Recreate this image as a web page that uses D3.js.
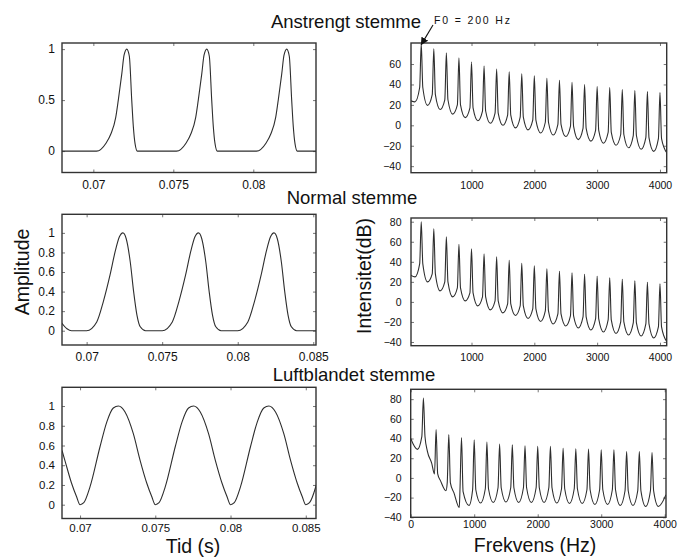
<!DOCTYPE html>
<html>
<head>
<meta charset="utf-8">
<script src="https://cdn.jsdelivr.net/npm/d3@7"></script>
<style>
  body { margin: 0; background: #fff; }
  text { font-family: "Liberation Sans", Arial, sans-serif; fill: #111; }
</style>
</head>
<body>
<svg id="fig" width="680" height="557"></svg>
<script>
// ---- values ----

// glottal pulse, "Anstrengt stemme" (time in s, amplitude)
var strainedT = [0.0680, 0.0702, 0.0708, 0.0711, 0.0714, 0.07156, 0.07178, 0.07192, 0.07209, 0.07225, 0.0724, 0.0725, 0.07261, 0.07275,
  0.0752, 0.0758, 0.0761, 0.0764, 0.07656, 0.07678, 0.07692, 0.07709, 0.07725, 0.0774, 0.0775, 0.07761, 0.07775,
  0.0802, 0.0808, 0.0811, 0.0814, 0.08156, 0.08178, 0.08192, 0.08209, 0.08225, 0.0824, 0.0825, 0.08261, 0.08275, 0.0841];
var strainedA = [0, 0, 0.08, 0.17, 0.33, 0.5, 0.76, 0.94, 1, 0.93, 0.5, 0.24, 0.07, 0,
  0, 0.08, 0.17, 0.33, 0.5, 0.76, 0.94, 1, 0.93, 0.5, 0.24, 0.07, 0,
  0, 0.08, 0.17, 0.33, 0.5, 0.76, 0.94, 1, 0.93, 0.5, 0.24, 0.07, 0, 0];

// "Normal stemme"
var normalT = [0.0682, 0.0687, 0.0690, 0.0700, 0.07067, 0.07111, 0.07155, 0.07189, 0.07217, 0.0724, 0.07262, 0.07289, 0.07311, 0.07333, 0.07355, 0.0739,
  0.0750, 0.07567, 0.07611, 0.07655, 0.07689, 0.07717, 0.0774, 0.07762, 0.07789, 0.07811, 0.07833, 0.07855, 0.0789,
  0.0800, 0.08067, 0.08111, 0.08155, 0.08189, 0.08217, 0.0824, 0.08262, 0.08289, 0.08311, 0.08333, 0.08355, 0.0839, 0.0852];
var normalA = [0.11, 0.02, 0, 0, 0.09, 0.30, 0.57, 0.81, 0.96, 1, 0.94, 0.70, 0.40, 0.16, 0.04, 0,
  0, 0.09, 0.30, 0.57, 0.81, 0.96, 1, 0.94, 0.70, 0.40, 0.16, 0.04, 0,
  0, 0.09, 0.30, 0.57, 0.81, 0.96, 1, 0.94, 0.70, 0.40, 0.16, 0.04, 0, 0];

// "Luftblandet stemme"
var breathyT = [0.0688, 0.06899, 0.06943, 0.06977,
  0.0700, 0.07025, 0.07066, 0.07133, 0.07178, 0.07221, 0.07255, 0.07299, 0.07354, 0.07399, 0.07443, 0.07477,
  0.0750, 0.07525, 0.07566, 0.07633, 0.07678, 0.07721, 0.07755, 0.07799, 0.07854, 0.07899, 0.07943, 0.07977,
  0.0800, 0.08025, 0.08066, 0.08133, 0.08178, 0.08221, 0.08255, 0.08299, 0.08354, 0.08399, 0.08443, 0.08477,
  0.0850, 0.08525, 0.0857];
var breathyA = [0.55, 0.45, 0.22, 0.08,
  0, 0.02, 0.18, 0.59, 0.84, 0.98, 1, 0.94, 0.72, 0.45, 0.22, 0.08,
  0, 0.02, 0.18, 0.59, 0.84, 0.98, 1, 0.94, 0.72, 0.45, 0.22, 0.08,
  0, 0.02, 0.18, 0.59, 0.84, 0.98, 1, 0.94, 0.72, 0.45, 0.22, 0.08,
  0, 0.02, 0.2];

// spectra: harmonics of F0 = 200 Hz, peak level, level at the foot of each spike, and the curve between spikes
var harmonicsHz = [200, 400, 600, 800, 1000, 1200, 1400, 1600, 1800, 2000, 2200, 2400, 2600, 2800, 3000, 3200, 3400, 3600, 3800, 4000];

var strainedPeakDb = [80, 75, 71, 66, 62, 58, 55, 52.5, 50.5, 48.5, 46, 44, 42, 40, 38, 37, 35, 34, 33, 32];
var strainedFootDb = [37, 30, 25, 20, 17, 14, 12, 10, 8, 5, 3, 1, -1, -3, -5, -7, -9, -10, -12, -13];
var strainedValleyHz = [0, 100, 300, 500, 700, 900, 1100, 1300, 1500, 1700, 1900, 2100, 2300, 2500, 2700, 2900, 3100, 3300, 3500, 3700, 3900, 4110];
var strainedValleyDb = [25, 23, 19.5, 15.5, 11, 7.5, 4.5, 2, 0, -2.5, -4.5, -7.5, -9.5, -11, -14, -15.5, -17.5, -19.5, -22, -23.5, -25.5, -27];

var normalPeakDb = [80, 73, 65, 57.5, 53, 48, 45, 41.5, 38.5, 36, 33, 30.5, 29, 27.5, 25.5, 24, 22.5, 21, 19.5, 18];
var normalFootDb = [38, 28, 20, 14, 9, 5, 1, -2, -4, -7, -9, -12, -14, -15, -17, -18, -20, -21, -22, -25];
var normalValleyHz = [0, 100, 300, 500, 700, 900, 1100, 1300, 1500, 1700, 1900, 2100, 2300, 2500, 2700, 2900, 3100, 3300, 3500, 3700, 3900, 4110];
var normalValleyDb = [28, 25, 20, 11, 5, 1, -4, -8, -11, -13.5, -16.5, -19.5, -22, -24, -26, -28, -30, -31.5, -33, -34, -36, -40];

var breathyPeakDb = [81, 49, 44, 41, 38.7, 36.3, 34.3, 33.6, 32.6, 32, 32, 30.2, 29.5, 29.2, 28.5, 28.5, 26.8, 26.8, 25.8];
var breathyFootDb = [42, 4, -5, -14, -12, -11, -10, -10, -10, -10, -10, -11, -11, -12, -12, -12, -13, -13, -13];
var breathyValleyHz = [0, 105, 263, 330, 470, 555, 680, 765, 918, 1100, 1300, 1500, 1700, 1900, 2100, 2300, 2500, 2700, 2900, 3100, 3300, 3500, 3700, 3900, 4020];
var breathyValleyDb = [40, 29, 27, 15, -3, -13, -15, -30, -28, -25.5, -25, -24.5, -25, -25, -25, -25.5, -26, -26, -27, -27, -28, -28, -29, -29, -17];

// tick values
var timeTicksTop = [0.07, 0.075, 0.08];
var timeTicks = [0.07, 0.075, 0.08, 0.085];
var ampTicksTop = [0, 0.5, 1];
var ampTicks = [0, 0.2, 0.4, 0.6, 0.8, 1];
var freqTicks = [1000, 2000, 3000, 4000];
var freqTicksBottom = [0, 1000, 2000, 3000, 4000];
var dbTicksTop = [-40, -20, 0, 20, 40, 60];
var dbTicks = [-40, -20, 0, 20, 40, 60, 80];

var titles = ["Anstrengt stemme", "Normal stemme", "Luftblandet stemme"];

// ---- drawing ----
var svg = d3.select("#fig");
var ink = "#2e2e2e";
var skirtHz = 25;

function spectrumPoints(peaks, foot, valleyHz, valleyDb) {
  var pts = valleyHz.map(function(f, i) { return [f, valleyDb[i]]; });
  peaks.forEach(function(p, i) {
    var f = harmonicsHz[i];
    pts.push([f - skirtHz, foot[i]], [f, p], [f + skirtHz, foot[i]]);
  });
  return pts.sort(function(a, b) { return a[0] - b[0]; });
}

var dB = d3.format("d");
var panels = [
  { box: [62, 43, 316, 172.5], xDom: [0.06804, 0.08392], yDom: [-0.21, 1.06],
    pts: d3.zip(strainedT, strainedA), xt: timeTicksTop, yt: ampTicksTop, fmt: String, fs: 12, padX: 8, padY: 7 },
  { box: [411, 43, 666.7, 172.7], xDom: [37, 4107], yDom: [-46.4, 80.6],
    pts: spectrumPoints(strainedPeakDb, strainedFootDb, strainedValleyHz, strainedValleyDb),
    xt: freqTicks, yt: dbTicksTop, fmt: dB, fs: 10.5, padX: 9, padY: 10 },
  { box: [62, 214.3, 316, 345], xDom: [0.06837, 0.08518], yDom: [-0.146, 1.19],
    pts: d3.zip(normalT, normalA), xt: timeTicks, yt: ampTicks, fmt: String, fs: 12, padX: 7, padY: 7 },
  { box: [411, 218, 666.7, 345.7], xDom: [37, 4107], yDom: [-43.7, 83.7],
    pts: spectrumPoints(normalPeakDb, normalFootDb, normalValleyHz, normalValleyDb),
    xt: freqTicks, yt: dbTicks, fmt: dB, fs: 10.5, padX: 8, padY: 9.5 },
  { box: [62, 387.3, 316, 518.5], xDom: [0.0688, 0.08568], yDom: [-0.14, 1.19],
    pts: d3.zip(breathyT, breathyA), xt: timeTicks, yt: ampTicks, fmt: String, fs: 11.5, padX: 5, padY: 7 },
  { box: [410.7, 389.3, 666, 517.3], xDom: [0, 4020], yDom: [-40, 90],
    pts: spectrumPoints(breathyPeakDb, breathyFootDb, breathyValleyHz, breathyValleyDb),
    xt: freqTicksBottom, yt: dbTicks, fmt: dB, fs: 10.5, padX: 3, padY: 9 }
];

panels.forEach(function(p, i) {
  var x0 = p.box[0], y0 = p.box[1], x1 = p.box[2], y1 = p.box[3];
  var x = d3.scaleLinear().domain(p.xDom).range([x0, x1]);
  var y = d3.scaleLinear().domain(p.yDom).range([y1, y0]);
  p.x = x; p.y = y;

  var clipId = "clip" + i;
  svg.append("clipPath").attr("id", clipId)
    .append("rect").attr("x", x0).attr("y", y0).attr("width", x1 - x0).attr("height", y1 - y0);

  var g = svg.append("g");

  // ticks on all four sides, pointing inward like MATLAB
  var axes = [
    { a: d3.axisBottom(x).tickValues(p.xt).tickFormat(p.fmt).tickPadding(p.padX), t: "translate(0," + y1 + ")" },
    { a: d3.axisTop(x).tickValues(p.xt).tickFormat(""), t: "translate(0," + y0 + ")" },
    { a: d3.axisLeft(y).tickValues(p.yt).tickFormat(p.fmt).tickPadding(p.padY), t: "translate(" + x0 + ",0)" },
    { a: d3.axisRight(y).tickValues(p.yt).tickFormat(""), t: "translate(" + x1 + ",0)" }
  ];
  axes.forEach(function(d) {
    var ax = g.append("g").attr("transform", d.t).call(d.a.tickSizeInner(-3).tickSizeOuter(0));
    ax.select(".domain").remove();
    ax.selectAll("line").attr("stroke", "#777");
    ax.selectAll("text").attr("font-size", p.fs).attr("font-family", "Liberation Sans, Arial, sans-serif").attr("fill", "#111");
  });

  g.append("path")
    .datum(p.pts)
    .attr("clip-path", "url(#" + clipId + ")")
    .attr("fill", "none")
    .attr("stroke", ink)
    .attr("stroke-width", 1.1)
    .attr("d", d3.line()
      .x(function(d) { return x(d[0]); })
      .y(function(d) { return y(d[1]); })
      .curve(d3.curveMonotoneX));

  g.append("rect")
    .attr("x", x0).attr("y", y0).attr("width", x1 - x0).attr("height", y1 - y0)
    .attr("fill", "none").attr("stroke", "#333").attr("stroke-width", 1.4);
});

// row titles
var titlePos = [[346, 28], [352, 204], [354, 381]];
titles.forEach(function(t, i) {
  svg.append("text").attr("x", titlePos[i][0]).attr("y", titlePos[i][1])
    .attr("text-anchor", "middle").attr("font-size", 18.5).text(t);
});

// axis labels
svg.append("text").attr("transform", "translate(29,272) rotate(-90)")
  .attr("text-anchor", "middle").attr("font-size", 19.5).text("Amplitude");
svg.append("text").attr("transform", "translate(371,276) rotate(-90)")
  .attr("text-anchor", "middle").attr("font-size", 19.5).text("Intensitet(dB)");
svg.append("text").attr("x", 193).attr("y", 553)
  .attr("text-anchor", "middle").attr("font-size", 19.5).text("Tid (s)");
svg.append("text").attr("x", 535).attr("y", 552)
  .attr("text-anchor", "middle").attr("font-size", 19.5).text("Frekvens (Hz)");

// F0 annotation pointing at the first harmonic
var tr = panels[1];
svg.append("defs").append("marker")
  .attr("id", "head").attr("viewBox", "0 0 10 10").attr("refX", 9).attr("refY", 5)
  .attr("markerWidth", 7).attr("markerHeight", 7).attr("orient", "auto")
  .append("path").attr("d", "M0,0L10,5L0,10z").attr("fill", "#111");
svg.append("line")
  .attr("x1", 433).attr("y1", 25)
  .attr("x2", tr.x(harmonicsHz[0])).attr("y2", tr.y(strainedPeakDb[0]) + 1)
  .attr("stroke", "#111").attr("stroke-width", 1.1).attr("marker-end", "url(#head)");
svg.append("text").attr("x", 434).attr("y", 24)
  .attr("font-size", 10.5).attr("textLength", 76).attr("lengthAdjust", "spacing")
  .text("F0 = 200 Hz");
</script>
</body>
</html>
